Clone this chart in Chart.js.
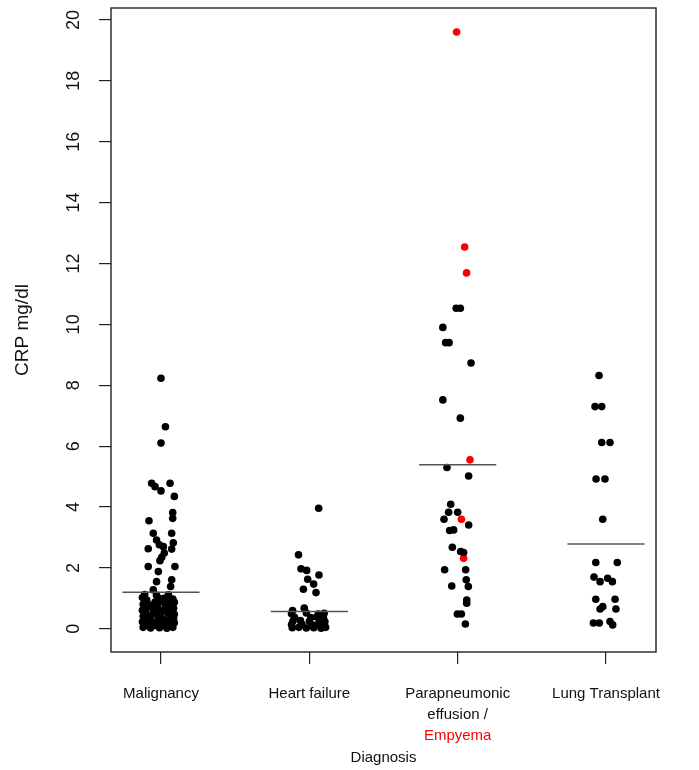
<!DOCTYPE html>
<html>
<head>
<meta charset="utf-8">
<title>CRP by diagnosis</title>
<script src="https://cdn.jsdelivr.net/npm/chart.js@4.4.1/dist/chart.umd.min.js"></script>
<style>
    body { margin: 0; background: #fff; }
    canvas { display: block; }
</style>
</head>
<body>
<canvas id="crpChart" width="699" height="770"></canvas>
<script>
// Categories (x = 1..4)
const categories = ['Malignancy', 'Heart failure', ['Parapneumonic', 'effusion /', ''], 'Lung Transplant'];
const yTickValues = [0, 2, 4, 6, 8, 10, 12, 14, 16, 18, 20];

// Malignancy: CRP values and horizontal jitter
const malignancyCRP = [
    8.23, 6.64, 6.10, 4.78, 4.67, 4.53, 4.78, 4.35, 3.82, 3.63, 3.55, 3.14, 3.14, 2.92, 2.76, 2.83,
    2.63, 2.70, 2.62, 2.49, 2.35, 2.24, 2.05, 1.88, 2.05, 1.61, 1.55, 1.39, 1.28, 0.95, 1.01,
    1.13, 1.10, 1.12, 1.03, 1.00, 0.98, 1.02,
    0.91, 0.88, 0.90, 0.93, 0.87, 0.81, 0.78, 0.80, 0.83,
    0.71, 0.69, 0.72, 0.68, 0.61, 0.58, 0.60, 0.62,
    0.51, 0.49, 0.52, 0.48, 0.42, 0.40, 0.39, 0.43,
    0.33, 0.31, 0.30, 0.34, 0.23, 0.21, 0.22, 0.24, 0.20,
    0.13, 0.11, 0.12, 0.14, 0.05, 0.03, 0.04, 0.02, 0.05
];
const malignancyJitter = [
    0.00, 0.03, 0.00, -0.063, -0.04, 0.00, 0.061, 0.09, 0.079, 0.079, -0.081, -0.052, 0.072, -0.03, -0.011, 0.083,
    -0.086, 0.016, 0.072, 0.022, 0.005, -0.007, -0.086, -0.018, 0.094, 0.072, -0.03, 0.065, -0.052, -0.096, -0.018,
    -0.11, -0.03, 0.05, -0.125, 0.02, 0.08, 0.045,
    -0.10, -0.04, 0.00, 0.06, 0.09, -0.12, -0.06, 0.03, 0.07,
    -0.09, -0.02, 0.04, 0.085, -0.125, -0.05, 0.01, 0.06,
    -0.10, -0.03, 0.045, 0.09, -0.12, -0.07, 0.00, 0.07,
    -0.09, -0.02, 0.03, 0.085, -0.125, -0.06, 0.00, 0.05, 0.09,
    -0.10, -0.04, 0.02, 0.07, -0.12, -0.07, -0.01, 0.04, 0.08
];

// Heart failure
const heartFailureCRP = [
    3.96, 2.43, 1.97, 1.92, 1.77, 1.63, 1.47, 1.30, 1.19, 0.68, 0.60,
    0.50, 0.52, 0.49, 0.51, 0.38, 0.37, 0.39, 0.36,
    0.26, 0.27, 0.25, 0.28, 0.24, 0.14, 0.15, 0.13, 0.16, 0.12,
    0.04, 0.05, 0.03, 0.04, 0.02, 0.05
];
const heartFailureJitter = [
    0.063, -0.073, -0.056, -0.018, 0.065, -0.011, 0.029, -0.04, 0.045, -0.034, -0.113,
    -0.12, -0.02, 0.06, 0.10, -0.10, 0.01, 0.05, 0.095,
    -0.11, -0.06, 0.00, 0.07, 0.105, -0.12, -0.05, 0.02, 0.06, 0.10,
    -0.115, -0.07, -0.02, 0.03, 0.08, 0.11
];

// Parapneumonic effusion (black) and empyema (red)
const effusionCRP = [
    10.53, 10.53, 9.90, 9.40, 9.40, 8.73, 7.52, 6.92, 5.30, 5.02, 4.09, 3.83, 3.83, 3.60, 3.41,
    3.23, 3.25, 2.68, 2.54, 2.51, 1.94, 1.94, 1.61, 1.41, 1.39, 0.95, 0.84, 0.49, 0.49, 0.16
];
const effusionJitter = [
    -0.01, 0.018, -0.10, -0.081, -0.058, 0.09, -0.10, 0.018, -0.072, 0.074, -0.047, -0.061, 0.00, -0.092, 0.074,
    -0.054, -0.027, -0.036, 0.02, 0.04, -0.088, 0.054, 0.058, -0.04, 0.072, 0.061, 0.061, -0.002, 0.025, 0.052
];
const empyemaCRP = [19.6, 12.54, 11.69, 5.55, 3.60, 2.32];
const empyemaJitter = [-0.007, 0.047, 0.06, 0.083, 0.025, 0.04];

// Lung transplant
const transplantCRP = [
    8.32, 7.30, 7.30, 6.12, 6.12, 4.92, 4.92, 3.60, 2.18, 2.18, 1.70, 1.55,
    1.66, 1.55, 0.97, 0.97, 0.73, 0.65, 0.65, 0.19, 0.19, 0.24, 0.13
];
const transplantJitter = [
    -0.047, -0.074, -0.029, -0.029, 0.027, -0.067, -0.007, -0.022, -0.069, 0.076, -0.081, -0.04,
    0.011, 0.043, -0.069, 0.061, -0.022, -0.04, 0.067, -0.085, -0.045, 0.027, 0.045
];

// Group averages (horizontal bars)
const groupMeans = [1.20, 0.57, 5.39, 2.79];

const FONT = "'Liberation Sans', Arial, sans-serif";
const X_TICK_SIZE = 15;
const X_LINE_HEIGHT = 1.4;
const X_TICK_LEN = 12;
const X_TICK_PAD = 19;

function toPoints(groupIndex, values, jitter) {
    return values.map((v, k) => ({ x: groupIndex + jitter[k], y: v }));
}

function dotSet(points, color) {
    return {
        type: 'scatter',
        data: points,
        pointRadius: 3.8,
        pointBackgroundColor: color,
        pointBorderWidth: 0,
        order: 2
    };
}

const meanLines = groupMeans.map((m, i) => ({
    type: 'line',
    data: [{ x: i + 1 - 0.26, y: m }, { x: i + 1 + 0.26, y: m }],
    borderColor: '#555',
    borderWidth: 1.5,
    pointRadius: 0,
    order: 1
}));

// Box round the plot and the red "Empyema" label
const boxPlugin = {
    id: 'boxAndEmpyema',
    afterDraw(chart) {
        const { ctx, chartArea } = chart;
        ctx.save();
        ctx.strokeStyle = '#222';
        ctx.lineWidth = 1.4;
        ctx.strokeRect(chartArea.left, chartArea.top, chartArea.right - chartArea.left, chartArea.bottom - chartArea.top);

        const xScale = chart.scales.x;
        const lh = X_TICK_SIZE * X_LINE_HEIGHT;
        ctx.fillStyle = '#ff0000';
        ctx.font = X_TICK_SIZE + 'px ' + FONT;
        ctx.textAlign = 'center';
        ctx.textBaseline = 'middle';
        ctx.fillText('Empyema', xScale.getPixelForValue(3), xScale.top + X_TICK_LEN + X_TICK_PAD + lh * 2.5);
        ctx.restore();
    }
};

const ctx = document.getElementById('crpChart').getContext('2d');
new Chart(ctx, {
    type: 'scatter',
    data: {
        datasets: [
            dotSet(toPoints(1, malignancyCRP, malignancyJitter), '#000'),
            dotSet(toPoints(2, heartFailureCRP, heartFailureJitter), '#000'),
            dotSet(toPoints(3, effusionCRP, effusionJitter), '#000'),
            dotSet(toPoints(3, empyemaCRP, empyemaJitter), '#ff0000'),
            dotSet(toPoints(4, transplantCRP, transplantJitter), '#000'),
            ...meanLines
        ]
    },
    options: {
        responsive: false,
        animation: false,
        devicePixelRatio: 1,
        layout: { padding: { top: 8, right: 43, left: 0, bottom: 0 } },
        plugins: {
            legend: { display: false },
            tooltip: { enabled: false }
        },
        scales: {
            x: {
                type: 'linear',
                min: 0.663,
                max: 4.337,
                afterBuildTicks: scale => { scale.ticks = categories.map((c, i) => ({ value: i + 1 })); },
                afterFit: scale => { scale.height = 118; },
                ticks: {
                    autoSkip: false,
                    maxRotation: 0,
                    padding: X_TICK_PAD,
                    color: '#111',
                    font: { family: FONT, size: X_TICK_SIZE, lineHeight: X_LINE_HEIGHT },
                    callback: value => categories[Math.round(value) - 1]
                },
                grid: { drawOnChartArea: false, drawTicks: true, tickLength: X_TICK_LEN, color: '#222', lineWidth: 1.2 },
                border: { display: false },
                title: {
                    display: true,
                    text: 'Diagnosis',
                    color: '#111',
                    font: { family: FONT, size: 15 },
                    padding: { top: 0, bottom: 3 }
                }
            },
            y: {
                min: -0.76,
                max: 20.39,
                afterBuildTicks: scale => { scale.ticks = yTickValues.map(v => ({ value: v })); },
                afterFit: scale => {
                    scale.width = 111;
                    scale.paddingTop = 0;
                    scale.paddingBottom = 0;
                },
                ticks: {
                    autoSkip: false,
                    minRotation: 90,
                    maxRotation: 90,
                    crossAlign: 'center',
                    padding: 15,
                    color: '#111',
                    font: { family: FONT, size: 18 }
                },
                grid: { drawOnChartArea: false, drawTicks: true, tickLength: 12, color: '#222', lineWidth: 1.2 },
                border: { display: false },
                title: {
                    display: true,
                    text: 'CRP mg/dl',
                    color: '#111',
                    font: { family: FONT, size: 19 },
                    padding: { top: 11, bottom: 0 }
                }
            }
        }
    },
    plugins: [boxPlugin]
});
</script>
</body>
</html>
